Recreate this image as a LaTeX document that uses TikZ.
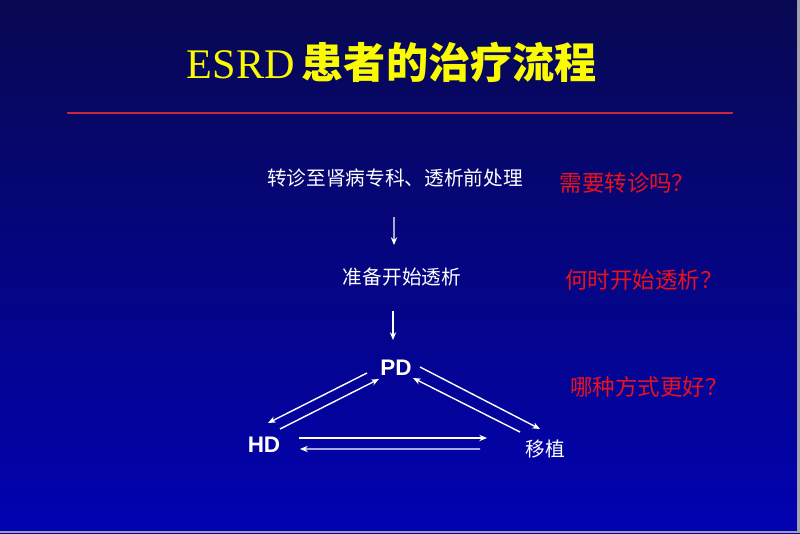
\documentclass[tikz,border=0pt]{standalone}
\usepackage{fontspec}
\setmainfont{Liberation Serif}
\newfontfamily\cjk{Noto Sans CJK SC}
\newfontfamily\arial{Liberation Sans}
\usepackage{tikz}
\usetikzlibrary{arrows.meta, positioning}
\definecolor{navyTop}{RGB}{8,8,82}
\definecolor{navyBottom}{RGB}{2,2,178}
\definecolor{edgeGray}{RGB}{160,160,170}
\definecolor{ruleRed}{RGB}{200,40,55}
\definecolor{askRed}{RGB}{232,18,30}
\definecolor{titleYellow}{RGB}{250,250,0}

\tikzset{
    step text/.style={text=white, inner sep=0pt, font=\cjk\fontsize{14}{16}\selectfont},
    ask text/.style={text=askRed, inner sep=0pt, font=\cjk\fontsize{16}{18}\selectfont},
    way text/.style={text=white, inner sep=0pt, font=\arial\bfseries\fontsize{16}{18}\selectfont},
    flow/.style={->, white, line width=1pt}
}

\begin{document}
\begin{tikzpicture}[scale=1.0, >={Stealth[length=5.5pt, width=4.5pt]}]
    \useasboundingbox (0,0) rectangle (20,13.325);

    % Background
    \shade[top color=navyTop, bottom color=navyBottom] (0,0) rectangle (20,13.325);
    \fill[edgeGray] (19.925,0) rectangle (20,13.325);
    \fill[edgeGray] (0,0) rectangle (20,0.05);

    % Title
    \node[inner sep=0pt, text=titleYellow] (title) at (9.8, 11.775)
        {\fontsize{30}{36}\selectfont ESRD\,{\cjk\bfseries 患者的治疗流程}};
    \draw[ruleRed, line width=0.8pt] (1.675,10.5) -- (18.325,10.5);

    % Steps
    \node[step text] (transfer) at (9.875, 8.875) {转诊至肾病专科、透析前处理};
    \node[step text] (prep) at (10.05, 6.4) {准备开始透析};
    \node[way text] (pd) at (9.9, 4.125) {PD};
    \node[way text] (hd) at (6.6, 2.2) {HD};
    \node[step text] (graft) at (13.625, 2.1) {移植};

    % Questions
    \node[ask text] (ask1) at (15.675, 8.75) {需要转诊吗？};
    \node[ask text] (ask2) at (16.1, 6.325) {何时开始透析？};
    \node[ask text] (ask3) at (16.225, 3.65) {哪种方式更好？};

    % Arrows
    \draw[flow] ([shift={(-0.025,-0.975)}]transfer.center) -- ([shift={(-0.2,0.8)}]prep.center);
    \draw[flow] ([shift={(-0.225,-0.85)}]prep.center) -- ([shift={(-0.075,0.7)}]pd.center);
    \draw[flow] ([shift={(-0.725,-0.125)}]pd.center) -- ([shift={(0.1,0.55)}]hd.center);
    \draw[flow] ([shift={(0.4,0.4)}]hd.center) -- ([shift={(-0.425,-0.275)}]pd.center);
    \draw[flow] ([shift={(0.6,0.025)}]pd.center) -- ([shift={(-0.125,0.5)}]graft.center);
    \draw[flow] ([shift={(-0.625,0.425)}]graft.center) -- ([shift={(0.425,-0.25)}]pd.center);
    \draw[flow] ([shift={(0.875,0.175)}]hd.center) -- ([shift={(-1.45,0.275)}]graft.center);
    \draw[flow] ([shift={(-1.625,0)}]graft.center) -- ([shift={(0.9,-0.1)}]hd.center);
\end{tikzpicture}
\end{document}
